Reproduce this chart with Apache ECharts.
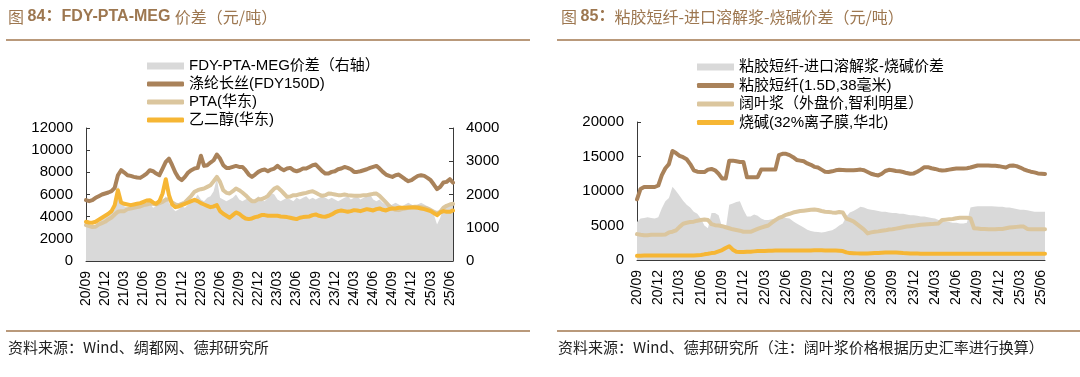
<!DOCTYPE html>
<html>
<head>
<meta charset="utf-8">
<script src="https://cdn.jsdelivr.net/npm/echarts@6/dist/echarts.min.js"></script>
<style>
html, body { margin: 0; padding: 0; background: #fff; }
#chart { width: 1080px; height: 377px; }
</style>
</head>
<body>
<div id="chart"></div>
<script>
// 月份（每月两个半月点）
const months = [
  '20/09','20/10','20/11','20/12',
  '21/01','21/02','21/03','21/04','21/05','21/06','21/07','21/08','21/09','21/10','21/11','21/12',
  '22/01','22/02','22/03','22/04','22/05','22/06','22/07','22/08','22/09','22/10','22/11','22/12',
  '23/01','23/02','23/03','23/04','23/05','23/06','23/07','23/08','23/09','23/10','23/11','23/12',
  '24/01','24/02','24/03','24/04','24/05','24/06','24/07','24/08','24/09','24/10','24/11','24/12',
  '25/01','25/02','25/03','25/04','25/05','25/06'
]
const categories = months.flatMap(m => [m + ' 上', m + ' 下'])

// 图84 左轴
const fdy = [5490,5400,5490,5700,5850,6000,6090,6180,6300,6600, 7740,8190,7980,7740,7680,7590,7530,7500,7680,7890,
  8190,8100,7890,7740,8340,8940,9240,8640,7980,7500, 7290,7590,7980,8190,8340,8400,9500,8580,8640,8880,
  9090,9600,9240,8640,8400,8400,8490,8580,8490,8490, 8190,7800,7590,7800,8040,8190,8250,8100,8250,8340,
  8580,8340,8190,8340,8400,8190,8100,8190,8340,8340, 8490,8640,8700,8400,8100,7890,7890,8040,8100,8280,
  8340,8490,8400,8280,8040,8040,8100,8190,8280,8400, 8490,8580,8340,8040,7800,7680,7590,7740,7800,7590,
  7380,7200,7290,7500,7680,7740,7680,7500,7290,6900, 6480,6690,7080,7140,7380,7080]
const pta = [3240,3150,3060,3090,3300,3420,3540,3750,3930,4200, 4440,4500,4500,4680,4740,4800,4860,4920,5040,5100,
  5190,5160,5100,5220,5340,5520,5580,5280,5100,5040, 5160,5280,5580,5880,6240,6390,6480,6540,6690,6840,
  7200,7590,7140,6390,6150,6090,6300,6540,6390,6180, 5940,5640,5400,5400,5580,5580,5700,5880,6240,6540,
  6660,6390,6090,5790,5820,5940,5940,6030,6090,6150, 6240,6300,6150,6000,5880,5940,6090,6060,6000,5940,
  5940,6000,5940,5910,5880,5880,5880,5940,5940,6000, 6060,6090,5880,5580,5280,4980,4740,4620,4590,4680,
  4740,4800,4860,4890,4890,4860,4800,4740,4590,4440, 4320,4440,4800,4980,5100,5160]
const meg = [3540,3480,3450,3540,3720,3900,4080,4260,4500,5040, 6390,5280,5160,5100,5040,5100,5160,5220,5340,5460,
  5490,5280,5160,5400,6090,7380,5940,5100,4860,4920, 5040,5160,5280,5400,5520,5400,5220,5100,4980,4860,
  4920,5040,4500,4260,4080,3900,4140,4380,4260,4020, 3840,3780,3840,3960,4020,4140,4140,4080,4080,4080,
  4080,4020,3990,3960,3900,3840,3780,3900,3960,3990, 4020,4140,4200,4080,4020,3990,4080,4200,4380,4500,
  4560,4500,4440,4500,4590,4560,4500,4590,4680,4620, 4560,4680,4740,4620,4560,4680,4740,4740,4800,4800,
  4800,4830,4830,4830,4800,4740,4680,4590,4500,4320, 4140,4380,4500,4440,4440,4560]
// 图84 右轴
const spreadFdy = [1050,1000,1100,1050,1150,1250,1300,1400,1450,1550, 2300,1750,1650,1600,1550,1650,1600,1700,1650,1700,
  1750,1600,1650,1700,1800,1950,1750,1600,1500,1550, 1650,1600,1700,1800,1850,2000,1850,1800,1900,1950,
  2100,2500,1900,1850,1800,1850,1900,2000,1850,1800, 1850,1900,1800,1850,1950,1850,1800,1900,2050,2000,
  1850,1800,1850,1900,1850,1800,1900,1850,1900,1950, 1850,1900,1850,1900,1950,1900,1850,1900,1850,1800,
  1850,1900,1950,1850,1900,1950,1850,1900,1950,2000, 1850,1800,1850,1750,1700,1650,1700,1750,1700,1650,
  1700,1750,1700,1650,1700,1750,1700,1650,1600,1400, 1100,1300,1650,1700,1650,1700]

// 图85
const viscose = [8800,10300,10580,10580,10580,10580,10800,12300,13300,13900, 15800,15500,15100,14900,14600,13900,13000,12800,12740,12740,
  13100,13200,13000,12500,11800,11800,14400,14400,14300,14200, 14200,12000,12000,12000,12000,13100,13100,13100,13100,13100,
  15200,15390,15390,15200,14900,14500,14400,14300,14000,13800, 13500,13400,13100,12800,12750,12850,13000,13070,13050,13000,
  13000,13000,13050,13100,13000,12750,12500,12350,12260,12500, 12900,13070,13000,12900,12850,12750,12600,12500,12550,12800,
  13100,13460,13460,13300,13200,13050,12980,13000,13100,13200, 13250,13250,13250,13300,13400,13550,13700,13700,13700,13700,
  13650,13650,13600,13500,13400,13650,13700,13600,13400,13150, 12950,12800,12700,12550,12500,12450]
const pulp = [3750,3650,3600,3600,3650,3650,3650,3650,3700,4000, 4100,4300,4800,5250,5400,5500,5550,5700,5800,5870,
  5800,5200,5050,5000,4900,4750,4600,4450,4350,4250, 4100,4090,4090,4300,4500,4700,4850,5000,5400,5770,
  6100,6300,6550,6700,6880,7000,7100,7150,7210,7280, 7310,7250,7100,7000,6970,6900,6850,6950,6900,6000,
  5800,5600,5200,4800,4400,3850,4000,4090,4150,4250, 4300,4420,4450,4550,4650,4750,4850,4900,4950,5050,
  5100,5150,5190,5200,5250,5300,5800,5850,5900,5950, 6050,6110,6110,6110,6050,4600,4550,4500,4480,4450,
  4450,4450,4480,4500,4600,4700,4750,4800,4850,4850, 4500,4450,4450,4450,4450,4450]
const caustic = [600,620,640,650,650,650,650,650,650,650, 650,650,650,650,660,660,670,690,720,820,
  900,1000,1060,1250,1440,1750,2000,1500,1200,1150, 1150,1200,1200,1250,1300,1300,1320,1350,1350,1380,
  1380,1380,1390,1390,1390,1380,1380,1370,1380,1390, 1400,1400,1400,1380,1380,1360,1360,1340,1300,1100,
  1000,980,960,950,950,960,980,1000,1020,1050, 1080,1100,1100,1080,1050,1000,980,950,940,930,
  920,920,910,910,910,900,900,900,910,910, 910,900,900,900,900,900,910,910,910,900,
  900,900,900,900,900,900,900,900,910,910, 910,910,900,900,900,900]
const spreadViscose = [5500,6000,6100,6200,6100,6000,6200,7500,8500,9000, 10600,10000,9300,8600,8000,7600,7000,6700,6000,5000,
  4600,6800,6800,6500,4800,4500,8000,8200,8400,8500, 7300,6300,6300,6600,6400,6000,5800,5800,5900,6000,
  6300,6300,6100,6000,5600,5300,5000,4700,4400,4200, 4100,4050,4000,4050,4200,4300,4600,5000,5300,6300,
  6900,7100,7400,7700,7600,7400,7300,7200,7100,7000, 7000,6900,6800,6800,6700,6700,6600,6500,6500,6400,
  6300,6300,6200,6100,6000,5800,5600,5500,5500,5400, 5400,5300,5300,5400,7600,7700,7800,7800,7800,7800,
  7800,7750,7700,7700,7600,7600,7500,7400,7300,7300, 7200,7100,7000,7000,7000,7000]

const leftTicks = [0, 12000, 2000]
const rightTicks = [0, 4000, 1000]
const r85Ticks = [0, 20000, 5000]

const FONT = '"Liberation Sans", Arial, "Noto Sans CJK SC", sans-serif'
const CJK = '"Noto Sans CJK SC", "Liberation Sans", sans-serif'
const BROWN = '#a9825a'
const TAN = '#dbc69e'
const ORANGE = '#f6b634'
const GRAY = '#d9d9d9'
const AXIS = '#3a3a3a'
const TITLE = '#9d7750'
const RULE = '#b9997b'

const chart = echarts.init(document.getElementById('chart'))

function xAxis(gridIndex) {
  return {
    type: 'category',
    gridIndex,
    data: categories,
    boundaryGap: false,
    axisLine: { lineStyle: { color: AXIS, width: 1 } },
    axisTick: { inside: true, length: 4, interval: i => i % 6 === 0, lineStyle: { color: AXIS } },
    axisLabel: {
      interval: i => i % 6 === 0,
      rotate: 90,
      margin: 10,
      formatter: v => v.slice(0, 5),
      fontSize: 14,
      color: '#000',
      fontFamily: FONT
    },
    splitLine: { show: false }
  }
}

function yAxis(gridIndex, ticks, position) {
  return {
    type: 'value',
    gridIndex,
    position,
    min: ticks[0],
    max: ticks[1],
    interval: ticks[2],
    axisLine: { show: true, lineStyle: { color: AXIS, width: 1 } },
    axisTick: { show: true, inside: true, length: 4, lineStyle: { color: AXIS } },
    axisLabel: { fontSize: 15, color: '#000', margin: 13, fontFamily: FONT, formatter: v => String(v) },
    splitLine: { show: false }
  }
}

function lineSeries(name, data, color, xi, yi, z) {
  return {
    name, type: 'line', data,
    xAxisIndex: xi, yAxisIndex: yi,
    symbol: 'none', smooth: false, z,
    lineStyle: { color, width: 4, cap: 'round', join: 'round' },
    itemStyle: { color }
  }
}

function areaSeries(name, data, xi, yi) {
  return {
    name, type: 'line', data,
    xAxisIndex: xi, yAxisIndex: yi,
    symbol: 'none', z: 1,
    lineStyle: { width: 0, color: GRAY },
    itemStyle: { color: GRAY },
    areaStyle: { color: GRAY, opacity: 1 }
  }
}

function legend(name, x, cy, isArea) {
  return {
    data: [{ name, icon: isArea ? 'rect' : 'roundRect' }],
    left: x,
    top: cy - 8,
    orient: 'vertical',
    padding: 0,
    itemWidth: 37,
    itemHeight: isArea ? 7 : 5,
    selectedMode: false,
    textStyle: { fontSize: 15, color: '#000', fontFamily: FONT, lineHeight: 16 }
  }
}

const titleRich = {
  c: { fontSize: 16, color: TITLE, fontFamily: CJK, fontWeight: 'normal' },
  b: { fontSize: 16, color: TITLE, fontFamily: FONT, fontWeight: 'bold' }
}

const option = {
  animation: false,
  backgroundColor: '#fff',
  title: [
    { text: '{c|图 }{b|84：FDY-PTA-MEG }{c|价差（元/吨）}', left: 8, top: 9, padding: 0, textStyle: { rich: titleRich } },
    { text: '{c|图 }{b|85：}{c|粘胶短纤-进口溶解浆-烧碱价差（元/吨）}', left: 561, top: 9, padding: 0, textStyle: { rich: titleRich } }
  ],
  legend: [
    legend('FDY-PTA-MEG价差（右轴）', 147, 66, true),
    legend('涤纶长丝(FDY150D)', 147, 84, false),
    legend('PTA(华东)', 147, 102, false),
    legend('乙二醇(华东)', 147, 120, false),
    legend('粘胶短纤-进口溶解浆-烧碱价差', 697, 67, true),
    legend('粘胶短纤(1.5D,38毫米)', 697, 85.5, false),
    legend('阔叶浆（外盘价,智利明星）', 697, 104, false),
    legend('烧碱(32%离子膜,华北)', 697, 122.5, false)
  ],
  grid: [
    { left: 86, top: 128, width: 367, height: 133 },
    { left: 637, top: 122, width: 408, height: 138 }
  ],
  xAxis: [xAxis(0), xAxis(1)],
  yAxis: [
    yAxis(0, leftTicks, 'left'),
    yAxis(0, rightTicks, 'right'),
    yAxis(1, r85Ticks, 'left')
  ],
  series: [
    areaSeries('FDY-PTA-MEG价差（右轴）', spreadFdy, 0, 1),
    lineSeries('PTA(华东)', pta, TAN, 0, 0, 3),
    lineSeries('乙二醇(华东)', meg, ORANGE, 0, 0, 4),
    lineSeries('涤纶长丝(FDY150D)', fdy, BROWN, 0, 0, 5),
    areaSeries('粘胶短纤-进口溶解浆-烧碱价差', spreadViscose, 1, 2),
    lineSeries('粘胶短纤(1.5D,38毫米)', viscose, BROWN, 1, 2, 5),
    lineSeries('阔叶浆（外盘价,智利明星）', pulp, TAN, 1, 2, 3),
    lineSeries('烧碱(32%离子膜,华北)', caustic, ORANGE, 1, 2, 4)
  ],
  graphic: [
    { type: 'rect', shape: { x: 6, y: 39, width: 524, height: 2 }, style: { fill: RULE } },
    { type: 'rect', shape: { x: 557, y: 39, width: 523, height: 2 }, style: { fill: RULE } },
    { type: 'rect', shape: { x: 6, y: 330, width: 524, height: 2 }, style: { fill: RULE } },
    { type: 'rect', shape: { x: 557, y: 330, width: 523, height: 2 }, style: { fill: RULE } },
    { type: 'text', left: 8, top: 340, style: { text: '资料来源：Wind、绸都网、德邦研究所', font: '15px ' + CJK, fill: '#222' } },
    { type: 'text', left: 558, top: 340, style: { text: '资料来源：Wind、德邦研究所（注：阔叶浆价格根据历史汇率进行换算）', font: '15px ' + CJK, fill: '#222' } }
  ]
}

chart.setOption(option)
window.addEventListener('resize', () => chart.resize())
</script>
</body>
</html>
